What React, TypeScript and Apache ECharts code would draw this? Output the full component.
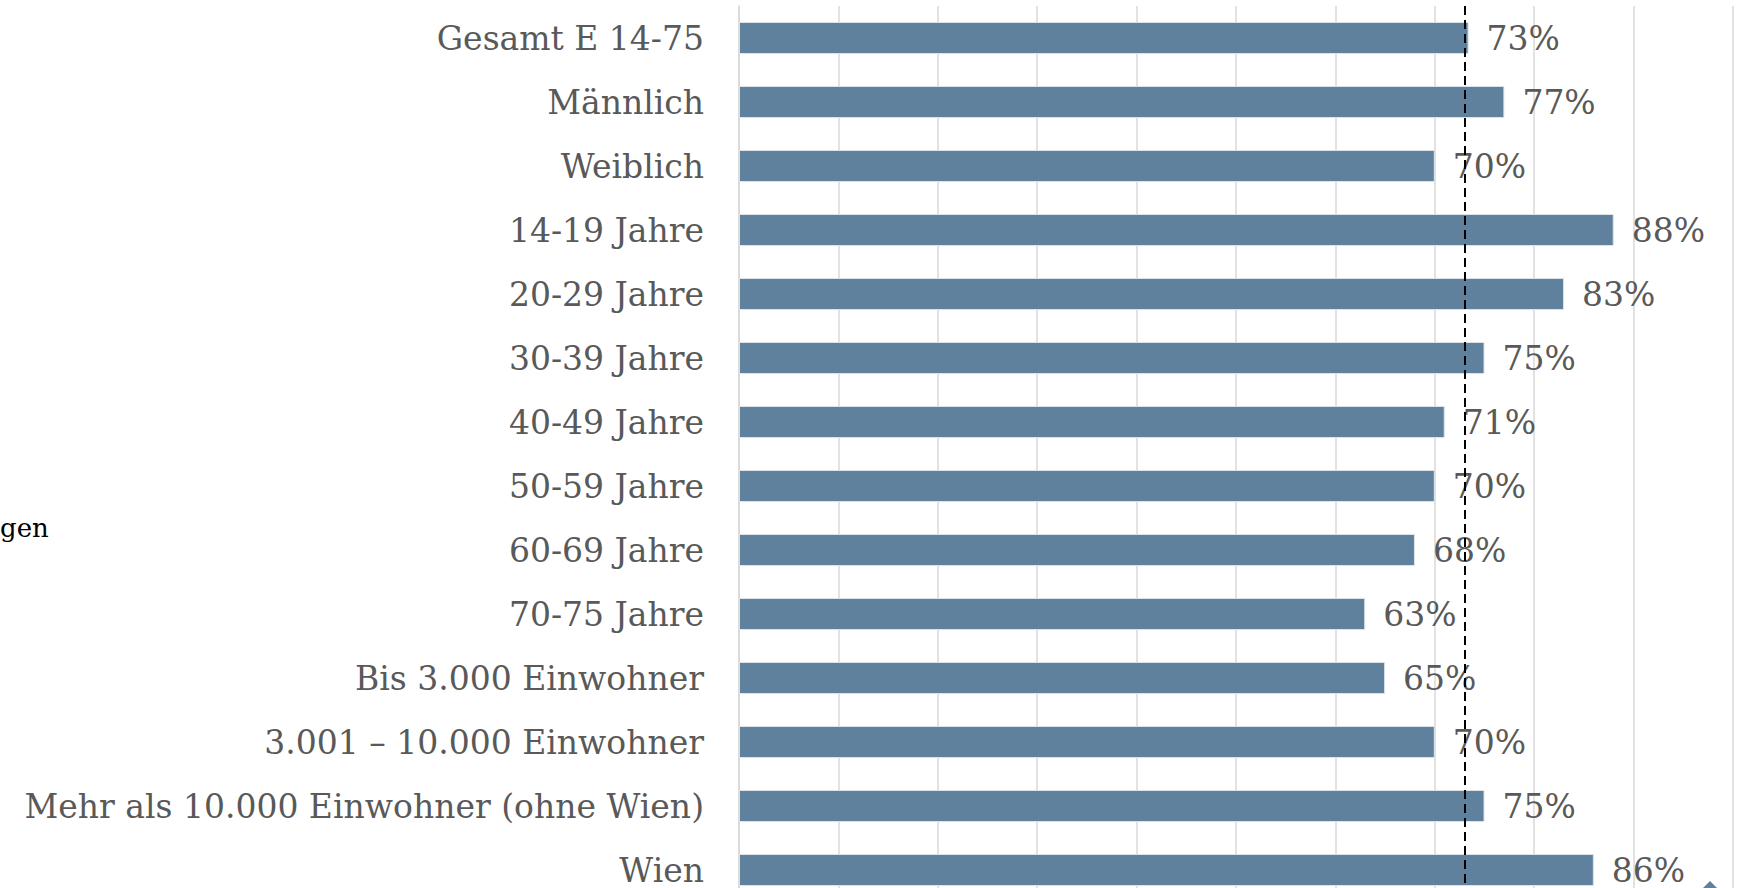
import React, { useEffect, useRef } from "react";
import * as echarts from "echarts";

const categories: string[] = [
  "Gesamt E 14-75",
  "Männlich",
  "Weiblich",
  "14-19 Jahre",
  "20-29 Jahre",
  "30-39 Jahre",
  "40-49 Jahre",
  "50-59 Jahre",
  "60-69 Jahre",
  "70-75 Jahre",
  "Bis 3.000 Einwohner",
  "3.001 – 10.000 Einwohner",
  "Mehr als 10.000 Einwohner (ohne Wien)",
  "Wien",
];

const values: number[] = [73.4, 77, 70, 88, 83, 75, 71, 70, 68, 63, 65, 70, 75, 86];

const averageLine = 73;

const xTicks = { min: 0, max: 100, interval: 10 };

const FONT = "'DejaVu Serif', serif";

export default function App() {
  const ref = useRef<HTMLDivElement>(null);

  useEffect(() => {
    if (!ref.current) return;
    const chart = echarts.init(ref.current, undefined, { renderer: "svg" });
    chart.setOption({
      animation: false,
      backgroundColor: "#ffffff",
      grid: { left: 739, top: 6, width: 994, height: 896, containLabel: false },
      xAxis: {
        type: "value",
        min: xTicks.min,
        max: xTicks.max,
        interval: xTicks.interval,
        axisLabel: { show: false },
        axisLine: { show: false },
        axisTick: { show: false },
        splitLine: { show: true, lineStyle: { color: "#d9d9d9", width: 1.5 } },
      },
      yAxis: {
        type: "category",
        data: categories,
        inverse: true,
        axisLine: { show: true, lineStyle: { color: "#d9d9d9", width: 1.5 } },
        axisTick: { show: false },
        axisLabel: {
          margin: 35,
          color: "#595959",
          fontFamily: FONT,
          fontSize: 33,
        },
      },
      series: [
        {
          type: "bar",
          data: values,
          barWidth: 32,
          itemStyle: { color: "#5f819d", borderColor: "#dbe3ea", borderWidth: 1 },
          label: {
            show: true,
            position: "right",
            distance: 18,
            formatter: (p: any) => Math.round(p.value) + "%",
            color: "#595959",
            fontFamily: FONT,
            fontSize: 33,
          },
          markLine: {
            silent: true,
            symbol: "none",
            label: { show: false },
            lineStyle: { color: "#000000", type: [9, 5], width: 2 },
            data: [{ xAxis: averageLine }],
          },
        },
      ],
      graphic: [
        {
          type: "text",
          left: 0,
          top: 515,
          style: {
            text: "gen",
            fill: "#000000",
            font: "26px 'DejaVu Serif', serif",
          },
        },
        {
          type: "polygon",
          shape: { points: [[1702, 889], [1710, 881], [1718, 889]] },
          style: { fill: "#5f819d" },
        },
      ],
    });
    return () => chart.dispose();
  }, []);

  return (
    <div
      ref={ref}
      style={{ position: "fixed", left: 0, top: 0, width: 1742, height: 910 }}
    />
  );
}
